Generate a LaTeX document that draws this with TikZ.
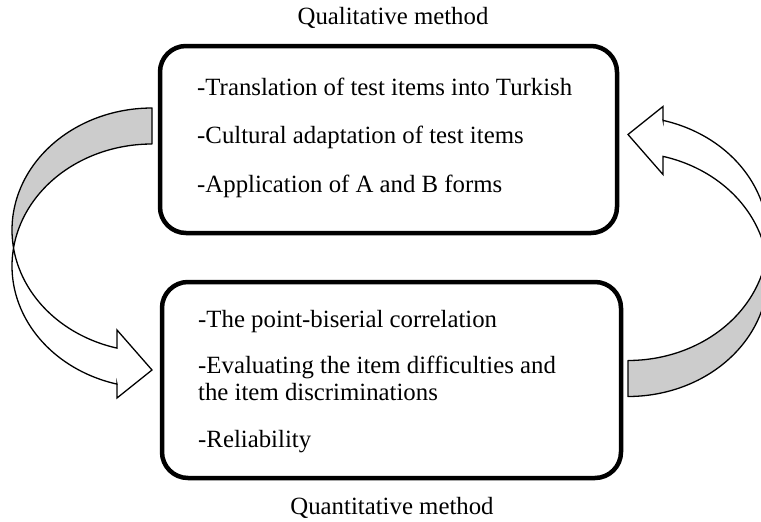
\documentclass[tikz,border=0pt]{standalone}
\usepackage{fontspec}
\setmainfont{Liberation Serif}
\tikzset{
  methodbox/.style={draw, line width=4.5pt, rounded corners=26pt, fill=white, inner sep=0pt},
  boxtext/.style={anchor=base west, inner sep=0pt, font=\fontsize{24.8}{27}\selectfont},
  titletext/.style={anchor=base, inner sep=0pt, font=\fontsize{24.8}{27}\selectfont},
  bandback/.style={draw, fill=black!20, line width=1.3pt, line join=round},
  bandfront/.style={draw, fill=white, line width=1.3pt, line join=miter},
}
\newcommand\drawcurvedband{%
  \filldraw[bandback]
    plot[domain=270:171.515, samples=60] ({152+140*cos(\x)},{230+122*sin(\x)})
    -- plot[domain=188.485:270, samples=60] ({152+140*cos(\x)},{266+122*sin(\x)})
    -- cycle;
  \filldraw[bandfront]
    plot[domain=171.515:104.4775, samples=60] ({152+140*cos(\x)},{230+122*sin(\x)})
    -- (117,330) -- (152,370) -- (117,398) -- (117,384.1)
    -- plot[domain=104.4775:188.485, samples=60] ({152+140*cos(\x)},{266+122*sin(\x)})
    -- cycle;
}
\begin{document}
\begin{tikzpicture}[x=1pt,y=-1pt]
  \useasboundingbox (0,0) rectangle (761,522);
  \clip (0,0) rectangle (761,522);
  % curved arrows
  \begin{scope}
    \drawcurvedband
  \end{scope}
  \begin{scope}[rotate around={180:(390,252.25)}]
    \drawcurvedband
  \end{scope}
  % boxes
  \node[methodbox, minimum width=457pt, minimum height=187pt] (qual) at (388.5,139.5) {};
  \node[methodbox, minimum width=459pt, minimum height=196pt] (quant) at (391.5,380) {};
  % titles
  \node[titletext] (qualtitle) at (393,24) {Qualitative method};
  \node[titletext] (quanttitle) at (392,514) {Quantitative method};
  % top box text
  \node[boxtext] (q1) at (197,95) {-Translation of test items into Turkish};
  \node[boxtext] (q2) at (197,143) {-Cultural adaptation of test items};
  \node[boxtext] (q3) at (197,192) {-Application of A and B forms};
  % bottom box text
  \node[boxtext] (n1) at (198,327) {-The point-biserial correlation};
  \node[boxtext] (n2) at (198,373) {-Evaluating the item difficulties and};
  \node[boxtext] (n3) at (198,400) {the item discriminations};
  \node[boxtext] (n4) at (198,447) {-Reliability};
\end{tikzpicture}
\end{document}
